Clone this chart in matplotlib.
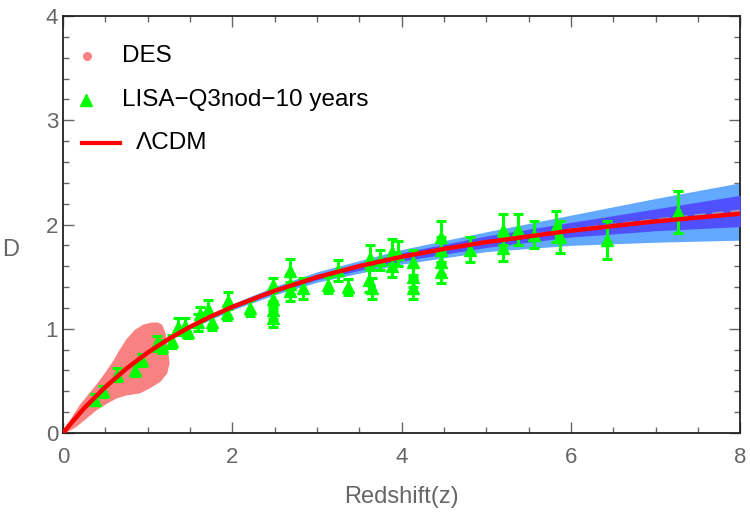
import matplotlib
matplotlib.use("Agg")
import matplotlib.pyplot as plt
from matplotlib.ticker import MultipleLocator

plt.rcParams['font.family'] = ['Liberation Sans', 'DejaVu Sans']

# DES cloud, outline (upper edge then lower edge back)
des_z = [0.00, 0.05, 0.12, 0.20, 0.30, 0.40, 0.50, 0.60, 0.67, 0.75, 0.85, 0.95, 1.05, 1.12, 1.17,
         1.21, 1.24, 1.26, 1.23, 1.15,
         1.03, 0.91, 0.75, 0.63, 0.52, 0.40, 0.28, 0.16, 0.08, 0.02]
des_d = [0.00, 0.08, 0.17, 0.27, 0.37, 0.47, 0.58, 0.70, 0.80, 0.90, 0.99, 1.04, 1.06, 1.06, 1.04,
         0.96, 0.80, 0.67, 0.57, 0.49,
         0.43, 0.38, 0.36, 0.33, 0.28, 0.22, 0.14, 0.06, 0.02, 0.00]

# LISA Q3nod 10 years mock points
lisa_z = [0.38, 0.47, 0.64, 0.85, 0.93, 1.11, 1.17, 1.29, 1.36, 1.44, 1.48, 1.60, 1.62, 1.71,
          1.76, 1.94, 1.95, 2.21, 2.48, 2.48, 2.48, 2.48, 2.68, 2.68, 2.68, 2.84, 3.13, 3.25,
          3.37, 3.61, 3.63, 3.65, 3.75, 3.89, 3.89, 3.96, 4.14, 4.14, 4.14, 4.46, 4.46, 4.46,
          4.46, 4.81, 5.20, 5.20, 5.38, 5.56, 5.82, 5.87, 6.43, 7.26]
lisa_d = [0.32, 0.40, 0.56, 0.60, 0.70, 0.86, 0.83, 0.88, 1.02, 1.03, 0.97, 1.06, 1.14, 1.19,
          1.06, 1.15, 1.27, 1.20, 1.42, 1.29, 1.18, 1.10, 1.55, 1.43, 1.36, 1.39, 1.42, 1.56,
          1.40, 1.47, 1.68, 1.39, 1.66, 1.74, 1.60, 1.72, 1.64, 1.50, 1.39, 1.88, 1.76, 1.64,
          1.54, 1.76, 1.95, 1.77, 1.95, 1.90, 1.98, 1.88, 1.85, 2.12]
lisa_err = [0.05, 0.05, 0.06, 0.05, 0.06, 0.07, 0.06, 0.06, 0.08, 0.07, 0.06, 0.08, 0.07, 0.09,
            0.07, 0.07, 0.08, 0.08, 0.07, 0.08, 0.09, 0.08, 0.12, 0.10, 0.09, 0.10, 0.08, 0.10,
            0.08, 0.12, 0.12, 0.10, 0.10, 0.12, 0.10, 0.12, 0.12, 0.10, 0.10, 0.15, 0.12, 0.12,
            0.10, 0.12, 0.15, 0.12, 0.15, 0.13, 0.15, 0.15, 0.18, 0.20]

# LCDM curve
lcdm_z = [0, 0.1, 0.25, 0.5, 0.75, 1.0, 1.25, 1.5, 1.75, 2.0, 2.5, 3.0, 3.5, 4.0, 4.5, 5.0, 6.0, 7.0, 8.0]
lcdm_d = [0, 0.098, 0.238, 0.441, 0.618, 0.771, 0.903, 1.018, 1.119, 1.209, 1.364, 1.494, 1.601,
          1.690, 1.766, 1.831, 1.941, 2.030, 2.104]

# reconstruction bands (2 sigma / 1 sigma) and mean
band_z = [0, 0.5, 1.0, 1.5, 2.0, 2.5, 3.0, 4.0, 5.0, 6.0, 7.0, 8.0]
band_mid = [0, 0.441, 0.771, 1.018, 1.210, 1.366, 1.496, 1.692, 1.835, 1.950, 2.045, 2.130]
band_lo2 = [0, 0.438, 0.762, 1.000, 1.180, 1.326, 1.446, 1.620, 1.740, 1.800, 1.830, 1.850]
band_hi2 = [0, 0.444, 0.780, 1.036, 1.240, 1.406, 1.546, 1.760, 1.930, 2.090, 2.250, 2.400]
band_lo1 = [0, 0.440, 0.766, 1.009, 1.195, 1.346, 1.471, 1.650, 1.780, 1.880, 1.940, 1.980]
band_hi1 = [0, 0.442, 0.776, 1.027, 1.225, 1.386, 1.521, 1.730, 1.890, 2.020, 2.150, 2.280]

legend_labels = ['DES', 'LISA\u2212Q3nod\u221210 years', '\u039bCDM']

gray = '#666666'
c_des = '#F88282'
c_lisa = '#00FF00'
c_lcdm = '#FF0000'

fig = plt.figure(figsize=(7.5, 5.17), dpi=100)
ax = fig.add_axes([0.084, 0.1625, 0.903, 0.8065])

ax.fill(des_z, des_d, color=c_des, lw=0, zorder=1)
ax.fill_between(band_z, band_lo2, band_hi2, color='#62A9FF', lw=0, zorder=2)
ax.fill_between(band_z, band_lo1, band_hi1, color='#5050FF', lw=0, zorder=3)
ax.plot(band_z, band_mid, color='#9A9AB4', lw=2, ls=(0, (4, 2.5)), zorder=4)

ax.errorbar(lisa_z, lisa_d, yerr=lisa_err, fmt='^', color=c_lisa, ms=8,
            elinewidth=2.2, capsize=3.8, capthick=2.2, zorder=5)
ax.plot(lcdm_z, lcdm_d, color=c_lcdm, lw=3.2, zorder=6)

ax.set_xlim(0, 8)
ax.set_ylim(0, 4)
ax.xaxis.set_major_locator(MultipleLocator(2))
ax.xaxis.set_minor_locator(MultipleLocator(0.5))
ax.yaxis.set_major_locator(MultipleLocator(1))
ax.yaxis.set_minor_locator(MultipleLocator(0.2))
ax.tick_params(which='both', direction='in', top=True, right=True, color=gray,
               labelcolor=gray, labelsize=16)
ax.tick_params(which='major', length=8, width=1)
ax.tick_params(which='minor', length=4, width=1)
ax.tick_params(axis='x', pad=10)
for s in ax.spines.values():
    s.set_color('#222222')
    s.set_linewidth(1.3)

ax.set_xlabel('Redshift(z)', color=gray, fontsize=17, labelpad=13)
ax.set_ylabel('D', color=gray, fontsize=17, rotation=0, va='center')
ax.yaxis.set_label_coords(-0.077, 0.44)

# legend, laid out by hand like the Mathematica one
tr = ax.transAxes
ax.plot([0.0355], [0.904], 'o', ms=5.5, color=c_des, transform=tr, clip_on=False)
ax.plot([0.034], [0.799], '^', ms=8, color=c_lisa, transform=tr, clip_on=False)
ax.plot([0.028, 0.084], [0.695, 0.695], color=c_lcdm, lw=3, transform=tr, clip_on=False)
ax.text(0.087, 0.904, legend_labels[0], transform=tr, fontsize=17.5, va='center')
ax.text(0.087, 0.799, legend_labels[1], transform=tr, fontsize=17.5, va='center')
ax.text(0.107, 0.695, legend_labels[2], transform=tr, fontsize=17.5, va='center')

fig.savefig('out.png', dpi=100)
